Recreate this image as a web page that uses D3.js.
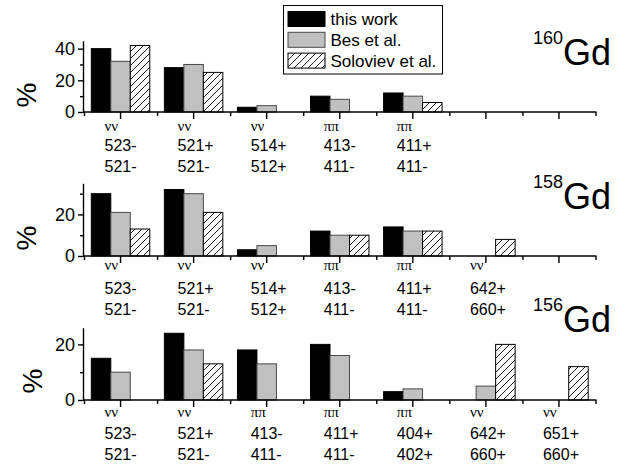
<!DOCTYPE html>
<html>
<head>
<meta charset="utf-8">
<script src="https://cdn.jsdelivr.net/npm/d3@7"></script>
<style>
  body { margin: 0; background: #fff; }
  svg { display: block; font-family: "Liberation Sans", Arial, sans-serif; }
  .axis path, .axis line { stroke: #000; stroke-width: 1.4; }
  .axis text { font-size: 18px; fill: #000; }
  .greek { font-family: "Liberation Serif", "DejaVu Serif", serif; font-size: 15px; }
  .num { font-size: 16px; }
</style>
</head>
<body>
<svg id="chart"></svg>
<script>
var series = ["this work", "Bes et al.", "Soloviev et al."];
var nuclei = ["160", "158", "156"];

// category labels: pair type, first orbital, second orbital ("" = empty slot)
var pairs160 = ["νν", "νν", "νν", "ππ", "ππ", "", ""];
var top160 = ["523-", "521+", "514+", "413-", "411+", "", ""];
var bot160 = ["521-", "521-", "512+", "411-", "411-", "", ""];

var pairs158 = ["νν", "νν", "νν", "ππ", "ππ", "νν", ""];
var top158 = ["523-", "521+", "514+", "413-", "411+", "642+", ""];
var bot158 = ["521-", "521-", "512+", "411-", "411-", "660+", ""];

var pairs156 = ["νν", "νν", "ππ", "ππ", "ππ", "νν", "νν"];
var top156 = ["523-", "521+", "413-", "411+", "404+", "642+", "651+"];
var bot156 = ["521-", "521-", "411-", "411-", "402+", "660+", "660+"];

// percentages, null = no bar
var thisWork160 = [40, 28, 3, 10, 12, null, null];
var bes160 = [32, 30, 4, 8, 10, null, null];
var soloviev160 = [42, 25, null, null, 6, null, null];

var thisWork158 = [30, 32, 3, 12, 14, null, null];
var bes158 = [21, 30, 5, 10, 12, null, null];
var soloviev158 = [13, 21, null, 10, 12, 8, null];

var thisWork156 = [15, 24, 18, 20, 3, null, null];
var bes156 = [10, 18, 13, 16, 4, 5, null];
var soloviev156 = [null, 13, null, null, null, 20, 12];

var yMax = [45, 35, 26];
var yMajor = [[0, 20, 40], [0, 20], [0, 20]];
var yMinor = [[10, 30], [10, 30], [10]];

const width = 634, height = 465;

const svg = d3.select("#chart")
  .attr("width", width)
  .attr("height", height);

const defs = svg.append("defs");
const pat = defs.append("pattern")
  .attr("id", "hatch")
  .attr("patternUnits", "userSpaceOnUse")
  .attr("width", 7)
  .attr("height", 7);
pat.append("rect").attr("width", 7).attr("height", 7).attr("fill", "#fff");
pat.append("path")
  .attr("d", "M-1,1 l2,-2 M0,7 l7,-7 M6,8 l2,-2")
  .attr("stroke", "#000")
  .attr("stroke-width", 0.9);

const fills = ["#000", "#c0c0c0", "url(#hatch)"];
const strokes = ["#000", "#4a4a4a", "#000"];

const panels = [
  {nuc: nuclei[0], pairs: pairs160, tops: top160, bots: bot160,
   vals: [thisWork160, bes160, soloviev160], y0: 112, yTop: 40.7, gdY: 65, pctY: 95,
   labY: [19, 38.7, 60.4]},
  {nuc: nuclei[1], pairs: pairs158, tops: top158, bots: bot158,
   vals: [thisWork158, bes158, soloviev158], y0: 256, yTop: 183.3, gdY: 208.5, pctY: 238,
   labY: [14, 38, 58.5]},
  {nuc: nuclei[2], pairs: pairs156, tops: top156, bots: bot156,
   vals: [thisWork156, bes156, soloviev156], y0: 400, yTop: 327.7, gdY: 331.5, pctY: 381,
   labY: [16.5, 39, 59.7]}
];

const axisX0 = 83, axisX1 = 596.5;

const x = d3.scaleBand()
  .domain(d3.range(7))
  .range([84, 595.5]);
const bw = x.bandwidth();
const xs = d3.scaleBand()
  .domain(d3.range(series.length))
  .range([bw * 0.1, bw * 0.9]);

panels.forEach(function (p, pi) {
  const y = d3.scaleLinear()
    .domain([0, yMax[pi]])
    .range([p.y0, p.yTop]);

  const g = svg.append("g");

  // bars
  p.vals.forEach(function (vals, si) {
    g.selectAll(".bar" + si)
      .data(vals.map((v, i) => ({i: i, v: v})).filter(d => d.v !== null))
      .enter()
      .append("rect")
      .attr("x", d => x(d.i) + xs(si))
      .attr("y", d => y(d.v))
      .attr("width", xs.bandwidth())
      .attr("height", d => y(0) - y(d.v))
      .attr("fill", fills[si])
      .attr("stroke", strokes[si])
      .attr("stroke-width", 1);
  });

  // y axis
  g.append("g")
    .attr("class", "axis")
    .attr("transform", "translate(" + axisX0 + ",0)")
    .call(d3.axisLeft(y).tickValues(yMajor[pi]).tickSize(5).tickSizeOuter(0).tickPadding(3));
  g.append("g")
    .attr("class", "axis")
    .attr("transform", "translate(" + axisX0 + ",0)")
    .call(d3.axisLeft(y).tickValues(yMinor[pi]).tickSize(3).tickFormat(""))
    .select(".domain").remove();

  // x axis
  g.append("line")
    .attr("x1", axisX0).attr("x2", axisX1)
    .attr("y1", p.y0).attr("y2", p.y0)
    .attr("stroke", "#000").attr("stroke-width", 1.4);
  const xa = g.append("g")
    .attr("class", "axis")
    .attr("transform", "translate(0," + p.y0 + ")")
    .call(d3.axisBottom(x).tickSize(7).tickSizeOuter(0).tickFormat(""));
  xa.select(".domain").remove();
  g.selectAll(".minor")
    .data(d3.range(8))
    .enter()
    .append("line")
    .attr("x1", i => (i < 7 ? x(i) : x(6) + bw) + 0.5)
    .attr("x2", i => (i < 7 ? x(i) : x(6) + bw) + 0.5)
    .attr("y1", p.y0)
    .attr("y2", p.y0 + 4)
    .attr("stroke", "#000").attr("stroke-width", 1.4);

  // category labels
  const lab = g.selectAll(".cat")
    .data(d3.range(7).filter(i => p.pairs[i] !== ""))
    .enter()
    .append("g")
    .attr("transform", i => "translate(" + (x(i) + bw / 2 - 16) + "," + p.y0 + ")");
  lab.append("text").attr("class", "greek").attr("y", p.labY[0]).text(i => p.pairs[i]);
  lab.append("text").attr("class", "num").attr("y", p.labY[1]).text(i => p.tops[i]);
  lab.append("text").attr("class", "num").attr("y", p.labY[2]).text(i => p.bots[i]);

  // % label
  g.append("text")
    .attr("transform", "translate(" + (pi === 2 ? 42 : 36) + "," + p.pctY + ") rotate(-90)")
    .attr("text-anchor", "middle")
    .style("font-size", "28px")
    .text("%");

  // nucleus label
  const t = g.append("text")
    .attr("x", 533)
    .attr("y", p.gdY);
  t.append("tspan").attr("dy", -21).style("font-size", "18px").text(p.nuc);
  t.append("tspan").attr("dy", 21).style("font-size", "36px").text("Gd");
});

// legend
const leg = svg.append("g");
leg.append("rect")
  .attr("x", 283.5).attr("y", 5.5)
  .attr("width", 159).attr("height", 68.5)
  .attr("fill", "#fff").attr("stroke", "#000").attr("stroke-width", 1);
const items = leg.selectAll(".legend")
  .data(series)
  .enter()
  .append("g")
  .attr("transform", (d, i) => "translate(288," + (11.5 + i * 20.8) + ")");
items.append("rect")
  .attr("width", 37).attr("height", 15)
  .attr("fill", (d, i) => fills[i])
  .attr("stroke", (d, i) => strokes[i]);
items.append("text")
  .attr("x", 42.5).attr("y", 13.5)
  .style("font-size", "17px")
  .text(d => d);
</script>
</body>
</html>
